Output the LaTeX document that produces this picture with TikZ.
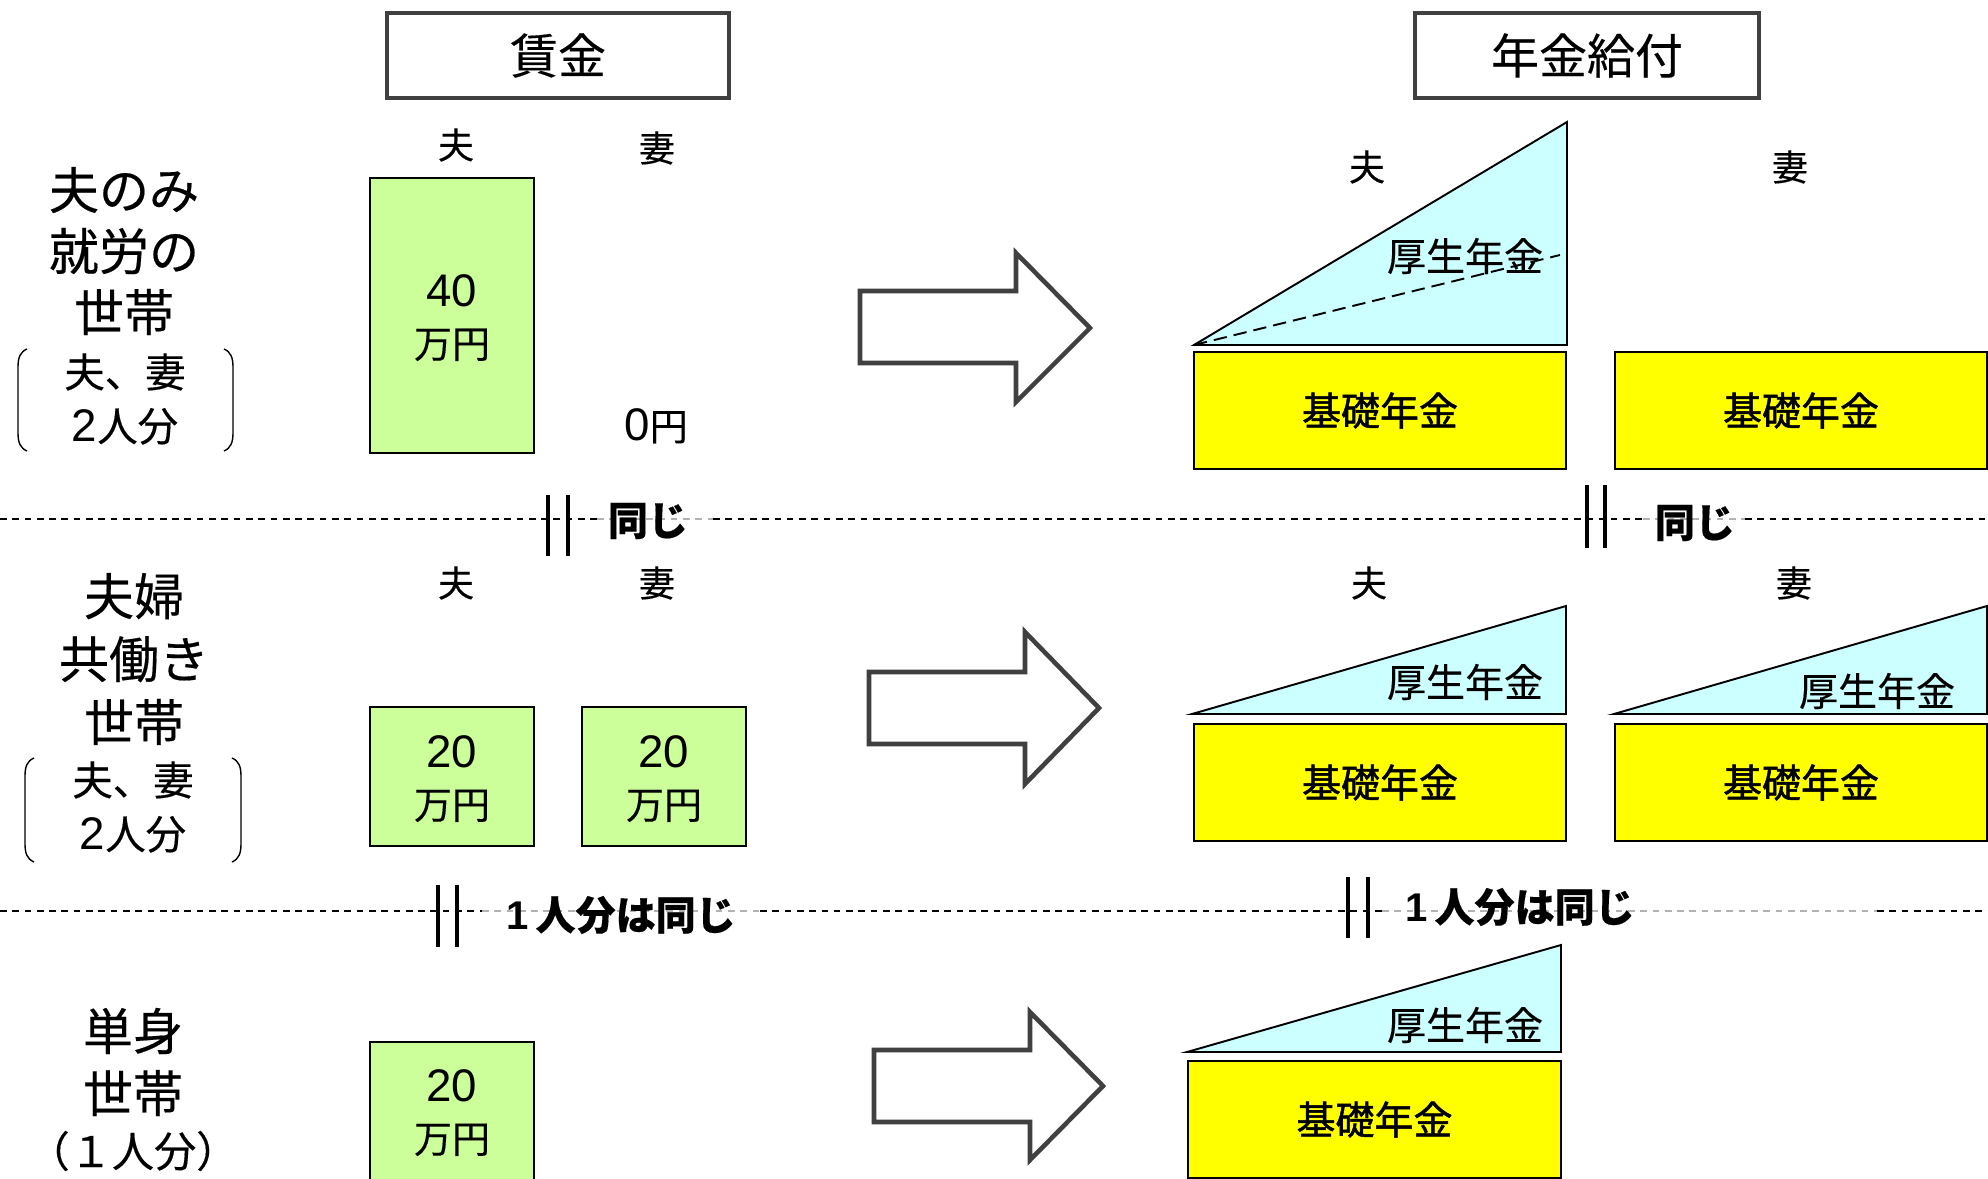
\documentclass[tikz,border=0pt]{standalone}
\usepackage{fontspec}
\setmainfont{Noto Sans CJK JP}[FakeBold=0.35]
\newfontfamily\heavyfont{Noto Sans CJK JP}[FakeBold=1.3]
\newfontfamily\digitfont{Liberation Sans}
\definecolor{dgray}{HTML}{404040}
\definecolor{wagegreen}{HTML}{CCFF99}
\definecolor{kisoyellow}{HTML}{FFFF00}
\definecolor{koseicyan}{HTML}{CCFFFF}
\newcommand\pxf[2]{\fontsize{#1}{#2}\selectfont}
\newcommand\dg[1]{{\digitfont\pxf{26pt}{29pt}#1}}
\begin{document}
\begin{tikzpicture}[x=0.02cm,y=-0.02cm,
 hdr/.style={draw=dgray, line width=2.3pt, fill=white, font=\pxf{27.3pt}{32pt}, inner sep=0pt},
 wagebox/.style={draw=black, line width=1pt, fill=wagegreen, inner sep=0pt, minimum width=3.28cm},
 wagetxt/.style={align=center, font=\pxf{21.6pt}{29pt}, inner sep=0pt},
 kisobox/.style={draw=black, line width=1.2pt, fill=kisoyellow, inner sep=0pt, minimum width=7.44cm, minimum height=2.34cm, font=\heavyfont\pxf{22.2pt}{26pt}},
 kosei/.style={draw=black, line width=1.1pt, fill=koseicyan, line join=miter},
 koseitxt/.style={font=\pxf{22.2pt}{26pt}, inner sep=0pt},
 coltxt/.style={font=\pxf{20.5pt}{24pt}, inner sep=0pt},
 hhtxt/.style={align=center, font=\pxf{28.5pt}{34.7pt}, inner sep=0pt},
 brtxt/.style={align=center, font=\pxf{23pt}{30.7pt}, inner sep=0pt},
 brk/.style={line width=0.8pt},
 sepb/.style={line width=1pt, dash pattern=on 3.8pt off 3.2pt},
 sepg/.style={sepb, draw=gray!60},
 eqbar/.style={line width=2.7pt},
 eqtxt/.style={font=\pxf{22.8pt}{26pt}\bfseries, inner sep=0pt},
 bigarrow/.style={draw=dgray, line width=2.6pt, fill=white, line join=miter},
]
\clip (0,0) rectangle (1988,1179);
\fill[white] (0,0) rectangle (1988,1179);

% headers
\node[hdr, minimum width=6.84cm, minimum height=1.7cm] (h1) at (558,55.5) {賃金};
\node[hdr, minimum width=6.88cm, minimum height=1.7cm] (h2) at (1587,55.5) {年金給付};

% ---------- row 1
\node[hhtxt] (lab1) at (124,251) {夫のみ\\就労の\\世帯};
\node[brtxt] (brt1) at (125,399) {夫、妻\\\dg{2}人分};
\draw[brk] (27,349) .. controls (20,352) and (18,358) .. (18,367) -- (18,433) .. controls (18,442) and (20,448) .. (27,451);
\draw[brk] (224,349) .. controls (231,352) and (233,358) .. (233,367) -- (233,433) .. controls (233,442) and (231,448) .. (224,451);

\node[coltxt] (r1hw) at (456,145) {夫};
\node[coltxt] (r1ww) at (657,148) {妻};
\node[wagebox, minimum height=5.5cm] (g1) at (452,315.5) {};
\node[wagetxt] (g1t) at (452,318) {\dg{40}\\万円};
\node[wagetxt] (zero) at (656,426) {\dg{0}円};

\draw[bigarrow] (860,291) -- (1016,291) -- (1016,253) -- (1090,328) -- (1016,402) -- (1016,363) -- (860,363) -- cycle;

\node[coltxt] (r1hp) at (1367,167) {夫};
\node[coltxt] (r1wp) at (1790,167) {妻};
\draw[kosei] (1194,345) -- (1567,122) -- (1567,345) -- cycle;
\draw[line width=1.1pt, dash pattern=on 7.6pt off 4pt] (1194,345) -- (1560,255);
\node[koseitxt] (k1) at (1465,256) {厚生年金};
\node[kisobox] (y1) at (1380,410.5) {基礎年金};
\node[kisobox] (y2) at (1801,410.5) {基礎年金};

% separator 1
\draw[sepb] (0,519) -- (597,519);
\draw[sepg] (597,519) -- (713,519);
\draw[sepb] (713,519) -- (1643,519);
\draw[sepg] (1643,519) -- (1745,519);
\draw[sepb] (1745,519) -- (1988,519);
\draw[eqbar] (548,495) -- (548,556);
\draw[eqbar] (568,495) -- (568,556);
\draw[eqbar] (1587,485) -- (1587,548);
\draw[eqbar] (1605,485) -- (1605,548);
\node[eqtxt] (eq1l) at (648,521) {同じ};
\node[eqtxt] (eq1r) at (1695,523) {同じ};

% ---------- row 2
\node[hhtxt, font=\pxf{28.5pt}{35.8pt}] (lab2) at (134,659) {夫婦\\共働き\\世帯};
\node[brtxt] (brt2) at (133,807) {夫、妻\\\dg{2}人分};
\draw[brk] (34,758) .. controls (27,761) and (25,767) .. (25,776) -- (25,844) .. controls (25,853) and (27,859) .. (34,862);
\draw[brk] (232,758) .. controls (239,761) and (241,767) .. (241,776) -- (241,844) .. controls (241,853) and (239,859) .. (232,862);

\node[coltxt] (r2hw) at (456,583) {夫};
\node[coltxt] (r2ww) at (657,583) {妻};
\node[wagebox, minimum height=2.78cm] (g2a) at (452,776.5) {};
\node[wagetxt] (g2at) at (452,779) {\dg{20}\\万円};
\node[wagebox, minimum height=2.78cm] (g2b) at (664,776.5) {};
\node[wagetxt] (g2bt) at (664,779) {\dg{20}\\万円};

\draw[bigarrow] (869,672) -- (1025,672) -- (1025,632) -- (1099,708) -- (1025,784) -- (1025,744) -- (869,744) -- cycle;

\node[coltxt] (r2hp) at (1369,583) {夫};
\node[coltxt] (r2wp) at (1794,583) {妻};
\draw[kosei] (1192,714) -- (1566,606) -- (1566,714) -- cycle;
\node[koseitxt] (k2a) at (1465,682) {厚生年金};
\draw[kosei] (1614,714) -- (1987,606) -- (1987,714) -- cycle;
\node[koseitxt] (k2b) at (1877,691) {厚生年金};
\node[kisobox] (y3) at (1380,782.5) {基礎年金};
\node[kisobox] (y4) at (1801,782.5) {基礎年金};

% separator 2
\draw[sepb] (0,911) -- (482,911);
\draw[sepg] (482,911) -- (760,911);
\draw[sepb] (760,911) -- (1382,911);
\draw[sepg] (1382,911) -- (1877,911);
\draw[sepb] (1877,911) -- (1988,911);
\draw[eqbar] (438,885) -- (438,947);
\draw[eqbar] (457,885) -- (457,947);
\draw[eqbar] (1348,877) -- (1348,938);
\draw[eqbar] (1368,877) -- (1368,938);
\node[eqtxt] (eq2l) at (621,915) {{\digitfont\bfseries 1}\hspace{4pt}人分は同じ};
\node[eqtxt] (eq2r) at (1520,907) {{\digitfont\bfseries 1}\hspace{4pt}人分は同じ};

% ---------- row 3
\node[hhtxt, font=\pxf{28.5pt}{35.3pt}] (lab3) at (133,1062) {単身\\世帯};
\node[brtxt, font=\pxf{24pt}{28pt}] (brt3) at (133,1151) {（１人分）};

\node[wagebox, minimum height=2.78cm] (g3) at (452,1111.5) {};
\node[wagetxt] (g3t) at (452,1113) {\dg{20}\\万円};

\draw[bigarrow] (874,1050) -- (1030,1050) -- (1030,1012) -- (1103,1086) -- (1030,1160) -- (1030,1122) -- (874,1122) -- cycle;

\draw[kosei] (1187,1052) -- (1561,945) -- (1561,1052) -- cycle;
\node[koseitxt] (k3) at (1465,1025) {厚生年金};
\node[kisobox, minimum width=7.46cm] (y5) at (1374.5,1119.5) {基礎年金};
\end{tikzpicture}
\end{document}
